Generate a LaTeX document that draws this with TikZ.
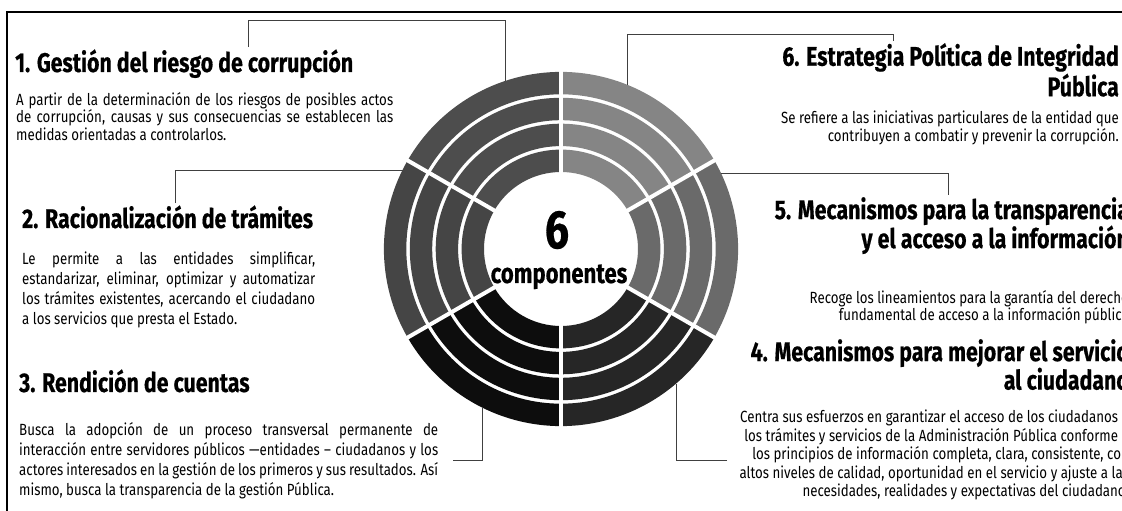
\documentclass[tikz,border=0pt]{standalone}
\usepackage{fontspec}
\setmainfont{Fira Sans}[FakeStretch=0.82]
\newfontfamily\headfont{Fira Sans}[FakeStretch=0.79, BoldFeatures={FakeBold=0.5}]
\usetikzlibrary{calc}

\definecolor{segA}{HTML}{4D4D4D}
\definecolor{segB}{HTML}{454545}
\definecolor{segC}{HTML}{0D0D0D}
\definecolor{segD}{HTML}{262626}
\definecolor{segE}{HTML}{6A6A6A}
\definecolor{segF}{HTML}{858585}

\newcommand\jline[2]{\makebox[#1][s]{#2}}

\begin{document}
\begin{tikzpicture}[x=1pt, y=1pt,
        head/.style={inner xsep=0pt, inner ysep=2pt, font=\headfont\fontsize{27}{30.5}\selectfont\bfseries},
        body/.style={inner sep=0pt, font=\fontsize{16.2}{20}\selectfont},
        link/.style={draw=black!75, line width=0.8pt}]
        \useasboundingbox (0,0) rectangle (1122,511);
        \draw[line width=1.2pt] (7,0) -- (7,499) -- (1122,499);

        \coordinate (ctr) at (561,262);
        \foreach \a/\c in {90/segA,150/segB,210/segC,270/segD,330/segE,30/segF}
            \foreach \r in {77,102.9,128.8,154.7}
                \fill[\c, shift={(ctr)}] (\a:\r) arc[start angle=\a, end angle=\a+60, radius=\r]
                    -- (\a+60:\r+22.4) arc[start angle=\a+60, end angle=\a, radius=\r+22.4] -- cycle;
        \foreach \a in {30,90,...,330}
            \draw[white, line width=4pt, shift={(ctr)}] (\a:70) -- (\a:182);

        \node[font=\headfont\fontsize{54}{54}\selectfont\bfseries] (num) at (557,281) {6};
        \node[font=\headfont\fontsize{28}{28}\selectfont\bfseries, anchor=base] (comp) at (559,228) {componentes};

        \node[head, anchor=base west] (tit1) at (15,439) {1. Gestión del riesgo de corrupción};
        \node[body, anchor=north west, align=left, font=\fontsize{16.2}{17.5}\selectfont] (txt1) at (16,419)
            {\jline{377pt}{A partir de la determinación de los riesgos de posibles actos}\\
             \jline{377pt}{de corrupción, causas y sus consecuencias se establecen las}\\
             medidas orientadas a controlarlos.};

        \node[head, anchor=base west] (tit2) at (22,283) {2. Racionalización de trámites};
        \node[body, anchor=north west, align=left] (txt2) at (22,259)
            {\jline{293pt}{Le permite a las entidades simplificar,}\\
             \jline{293pt}{estandarizar, eliminar, optimizar y automatizar}\\
             \jline{293pt}{los trámites existentes, acercando el ciudadano}\\
             a los servicios que presta el Estado.};

        \node[head, anchor=base west] (tit3) at (19,119) {3. Rendición de cuentas};
        \node[body, anchor=north west, align=left] (txt3) at (19,89)
            {\jline{419pt}{Busca la adopción de un proceso transversal permanente de}\\
             \jline{419pt}{interacción entre servidores públicos —entidades – ciudadanos y los}\\
             \jline{419pt}{actores interesados en la gestión de los primeros y sus resultados. Así}\\
             mismo, busca la transparencia de la gestión Pública.};

        \node[head, anchor=north east, align=right] (tit6) at (1119,470)
            {6. Estrategia Política de Integridad\\ Pública};
        \node[body, anchor=north east, align=right, font=\fontsize{16.2}{18}\selectfont] (txt6) at (1119,400)
            {Se refiere a las iniciativas particulares de la entidad que\\
             contribuyen a combatir y prevenir la corrupción.};

        \node[head, anchor=north east, align=right, font=\headfont\fontsize{27}{29}\selectfont\bfseries] (tit5) at (1129,316)
            {5. Mecanismos para la transparencia\\ y el acceso a la información};
        \node[body, anchor=north east, align=right, font=\fontsize{16.2}{17.5}\selectfont] (txt5) at (1129,221)
            {Recoge los lineamientos para la garantía del derecho\\
             fundamental de acceso a la información pública};

        \node[head, anchor=north east, align=right, font=\headfont\fontsize{27}{28.5}\selectfont\bfseries] (tit4) at (1129,174)
            {4. Mecanismos para mejorar el servicio\\ al ciudadano};
        \node[body, anchor=north east, align=right, font=\fontsize{16.2}{18.5}\selectfont] (txt4) at (1129,101)
            {Centra sus esfuerzos en garantizar el acceso de los ciudadanos a\\
             los trámites y servicios de la Administración Pública conforme a\\
             los principios de información completa, clara, consistente, con\\
             altos niveles de calidad, oportunidad en el servicio y ajuste a las\\
             necesidades, realidades y expectativas del ciudadano.};

        \coordinate (r1) at ($(ctr)+(108.4:177)$);
        \coordinate (r2) at ($(ctr)+(153.5:177)$);
        \coordinate (r3) at ($(ctr)+(243.5:177)$);
        \coordinate (r4) at ($(ctr)+(310.5:177)$);
        \coordinate (r5) at ($(ctr)+(25.4:177)$);
        \coordinate (r6) at ($(ctr)+(67.8:177)$);
        \coordinate (k1) at (248,491);
        \coordinate (k2) at (175,341);
        \coordinate (e3) at (453,51);
        \coordinate (e4) at (727,51);
        \coordinate (k5) at (948,338);
        \coordinate (k6) at (893,477);

        \draw[link] (tit1.north -| k1) -- (k1) -| (r1);
        \draw[link] (tit2.north -| k2) -- (k2) -- (k2 -| r2);
        \draw[link] (e3) -| (r3);
        \draw[link] (e4) -| (r4);
        \draw[link] (r5) -- (r5 -| k5) -- (tit5.north -| k5);
        \draw[link] (r6) |- (k6) -- (tit6.north -| k6);
    \end{tikzpicture}
\end{document}
